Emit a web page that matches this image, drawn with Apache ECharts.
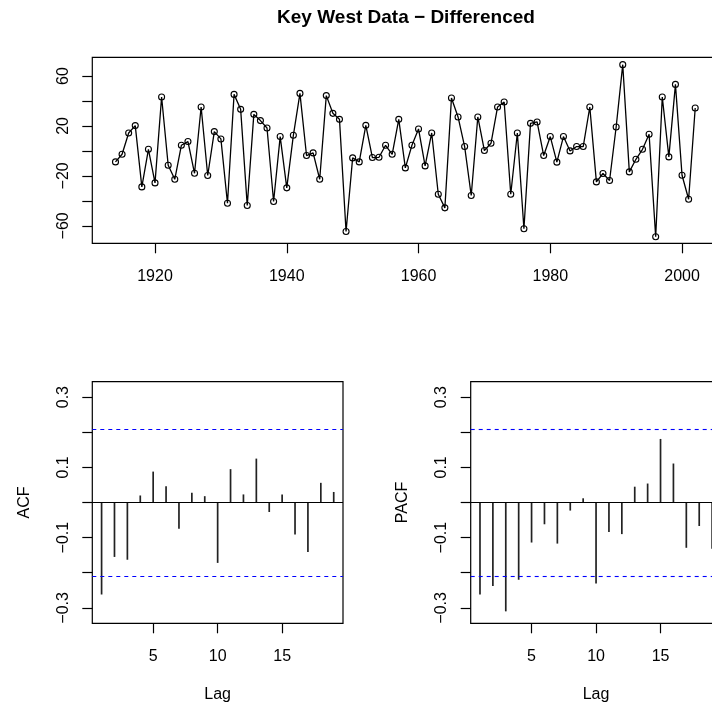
<!DOCTYPE html>
<html>
<head>
<meta charset="utf-8">
<script src="https://cdn.jsdelivr.net/npm/echarts@6/dist/echarts.min.js"></script>
<style>
  html, body { margin: 0; padding: 0; background: #fff; overflow: hidden; }
  #main { width: 730px; height: 708px; }
</style>
</head>
<body>
<div id="main"></div>
<script>
// differenced series, one value per year 1914..2002
var years = []
for (var y = 1914; y <= 2002; y++) years.push(y)
var diffVals = [
  -8.8, -2.7, 14.4, 20.3, -28.8, 1.3, -25.6, 43.2, -11.5, -22.7,
  4.5, 7.5, -17.9, 35.2, -19.7, 15.5, 9.6, -41.9, 45.3, 33.3,
  -43.7, 29.3, 24.3, 18.4, -40.5, 11.5, -29.6, 12.5, 46.1, -3.7,
  -1.6, -22.7, 44.3, 30.1, 25.3, -64.5, -5.6, -8.8, 20.5, -5.3,
  -5.1, 4.5, -2.7, 25.3, -13.6, 4.5, 17.6, -12.0, 14.4, -34.7,
  -45.6, 42.4, 27.2, 3.5, -35.7, 27.2, 0.3, 6.1, 35.2, 39.2,
  -34.7, 14.4, -62.4, 22.1, 23.2, -3.7, 11.5, -9.0, 11.5, 0.0,
  3.5, 3.5, 35.2, -24.8, -18.1, -23.7, 19.2, 69.1, -16.8, -6.7,
  1.3, 13.3, -68.8, 43.2, -4.8, 53.3, -19.5, -38.7, 34.4
]
var yearTicks = [1920, 1940, 1960, 1980, 2000]
var tsTicks = [-60, -40, -20, 0, 20, 40, 60]
var tsLabels = [-60, -20, 20, 60]

// sample acf / pacf, lags 1..19
var lags = [1, 2, 3, 4, 5, 6, 7, 8, 9, 10, 11, 12, 13, 14, 15, 16, 17, 18, 19]
var acfVals = [-0.262, -0.155, -0.163, 0.020, 0.088, 0.046, -0.075, 0.028, 0.018, -0.172,
  0.095, 0.023, 0.125, -0.027, 0.023, -0.091, -0.141, 0.056, 0.030]
var pacfVals = [-0.262, -0.238, -0.310, -0.220, -0.114, -0.062, -0.117, -0.023, 0.012, -0.231,
  -0.084, -0.090, 0.045, 0.054, 0.181, 0.111, -0.129, -0.067, -0.132]
var confBound = 0.208
var lagTicks = [5, 10, 15]
var corrTicks = [-0.3, -0.2, -0.1, 0, 0.1, 0.2, 0.3]
var corrLabels = [-0.3, -0.1, 0.1, 0.3]

var FONT = 'Liberation Sans, Arial, Helvetica, sans-serif'

function minus(v) {
  return String(v).replace('-', '\u2212')
}

function xAx(idx, min, max, ticks, name) {
  return {
    type: 'value', gridIndex: idx, min: min, max: max,
    splitLine: { show: false },
    axisLine: { show: false, onZero: false },
    axisTick: { show: true, length: 10, customValues: ticks, lineStyle: { color: '#000', width: 1.2 } },
    axisLabel: { customValues: ticks, margin: 25, fontSize: 16, fontFamily: FONT, color: '#000', formatter: minus },
    name: name || '', nameLocation: 'middle', nameGap: 63,
    nameTextStyle: { fontSize: 16, fontFamily: FONT, color: '#000' }
  }
}

function yAx(idx, min, max, ticks, labels, name) {
  return {
    type: 'value', gridIndex: idx, min: min, max: max,
    splitLine: { show: false },
    axisLine: { show: false, onZero: false },
    axisTick: { show: true, length: 10, customValues: ticks, lineStyle: { color: '#000', width: 1.2 } },
    axisLabel: { customValues: labels, rotate: 90, margin: 21, fontSize: 16, fontFamily: FONT, color: '#000', formatter: minus },
    name: name || '', nameLocation: 'middle', nameGap: 60, nameRotate: 90,
    nameTextStyle: { fontSize: 16, fontFamily: FONT, color: '#000' }
  }
}

function corrSeries(idx, vals) {
  var data = lags.map(function (l, i) { return [l, vals[i]] })
  return [
    {
      type: 'bar', xAxisIndex: idx, yAxisIndex: idx,
      data: data, barWidth: 1.7,
      itemStyle: { color: '#222' },
      markLine: {
        silent: true, symbol: 'none', label: { show: false }, animation: false,
        lineStyle: { color: '#000', width: 1.2, type: 'solid' },
        data: [{ yAxis: 0 }]
      }
    },
    {
      // significance bounds
      type: 'line', xAxisIndex: idx, yAxisIndex: idx,
      data: [], showSymbol: false,
      markLine: {
        silent: true, symbol: 'none', label: { show: false }, animation: false,
        lineStyle: { color: '#0000ff', width: 1.1, type: [4, 4] },
        data: [{ yAxis: confBound }, { yAxis: -confBound }]
      }
    }
  ]
}

var chart = echarts.init(document.getElementById('main'), null, { renderer: 'canvas' })

var gridStyle = { show: true, borderColor: '#000', borderWidth: 1.2, backgroundColor: 'transparent', containLabel: false, outerBoundsMode: 'none' }

var option = {
  animation: false,
  backgroundColor: '#fff',
  title: {
    text: 'Key West Data \u2212 Differenced',
    left: 401, top: 3, textAlign: 'center',
    textStyle: { fontSize: 19, fontWeight: 'bold', fontFamily: FONT, color: '#000' }
  },
  grid: [
    Object.assign({ left: 92.3, top: 57.3, width: 626.1, height: 186 }, gridStyle),
    Object.assign({ left: 92.3, top: 381.7, width: 250.7, height: 241.6 }, gridStyle),
    Object.assign({ left: 470.7, top: 381.7, width: 250.7, height: 241.6 }, gridStyle)
  ],
  xAxis: [
    xAx(0, 1910.48, 2005.52, yearTicks),
    xAx(1, 0.28, 19.72, lagTicks, 'Lag'),
    xAx(2, 0.28, 19.72, lagTicks, 'Lag')
  ],
  yAxis: [
    yAx(0, -74, 75, tsTicks, tsLabels),
    yAx(1, -0.344, 0.344, corrTicks, corrLabels, 'ACF'),
    yAx(2, -0.344, 0.344, corrTicks, corrLabels, 'PACF')
  ],
  series: [
    {
      type: 'line', xAxisIndex: 0, yAxisIndex: 0,
      data: years.map(function (yr, i) { return [yr, diffVals[i]] }),
      symbol: 'circle', symbolSize: 6, showSymbol: true,
      lineStyle: { color: '#000', width: 1.3 },
      itemStyle: { color: 'rgba(0,0,0,0)', borderColor: '#000', borderWidth: 1.1 }
    }
  ].concat(corrSeries(1, acfVals), corrSeries(2, pacfVals))
}

chart.setOption(option)
</script>
</body>
</html>
